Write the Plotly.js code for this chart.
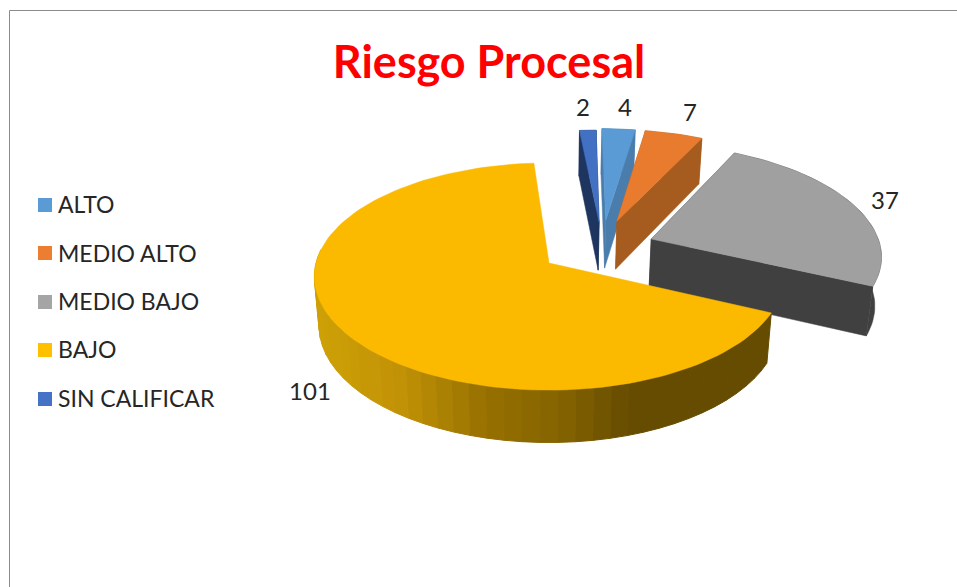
<!DOCTYPE html>
<html>
<head>
<meta charset="utf-8">
<script src="https://cdn.plot.ly/plotly-3.0.1.min.js"></script>
<style>html,body{margin:0;padding:0;background:#fff}</style>
</head>
<body>
<div id="chart" style="width:957px;height:587px"></div>
<script>
// ---- data ----
const categories = ['ALTO', 'MEDIO ALTO', 'MEDIO BAJO', 'BAJO', 'SIN CALIFICAR'];
const values = [4, 7, 37, 101, 2];
const topColors = ['#5B9BD5', '#E97B2F', '#A0A0A0', '#FBB900', '#4270C2'];
const wallColors = ['#4A7DAC', '#A65C1E', '#404040', '#664C00', '#1E3560'];
const legendColors = ['#5B9BD5', '#ED7D31', '#A5A5A5', '#FFC000', '#4472C4'];

// ---- 3-D projection of the pie ----
const firstSliceDeg = 0.6;      // Excel "first slice angle"
const centre = [549, 263], radiusX = 233, radiusY = 112, persp = 0.119;
// explosion of each slice on the pie's plane (u right, v toward the viewer)
const explode = [[0.255, -0.40], [0.305, -0.39], [0.45, -0.22], [0, 0], [0.225, -0.38]];
const drawOrder = [4, 0, 1, 2, 3];

function project(u, v, lift) {
  const s = 1 / (1 - persp * v);
  const x = radiusX * u * s;
  const depth = lift ? 24 + 25 * s : 0;
  return [centre[0] + (lift ? x * 0.98 : x), centre[1] + radiusY * v * s + depth];
}
function polar(i, deg, r) {
  const a = deg * Math.PI / 180;
  return [explode[i][0] + r * Math.sin(a), explode[i][1] - r * Math.cos(a)];
}
function poly(points, color, name, hover, width) {
  const pts = points.concat([points[0]]);
  return {
    type: 'scatter', mode: 'lines', x: pts.map(p => p[0]), y: pts.map(p => p[1]),
    fill: 'toself', fillcolor: color, line: {color: color, width: width === undefined ? 0.5 : width},
    showlegend: false, name: name, hoverinfo: hover ? 'name' : 'skip'
  };
}
function lerpColor(stops, x) {
  let k = 0;
  while (k < stops.length - 2 && x > stops[k + 1][0]) k++;
  const a = stops[k], b = stops[k + 1];
  const t = Math.max(0, Math.min(1, (x - a[0]) / (b[0] - a[0])));
  const c = [0, 1, 2].map(j => Math.round(a[1][j] + (b[1][j] - a[1][j]) * t));
  return 'rgb(' + c.join(',') + ')';
}
const goldShade = [
  [318, [205, 160, 6]], [400, [194, 146, 6]], [480, [152, 114, 0]],
  [560, [132, 99, 0]], [630, [102, 76, 0]], [780, [102, 76, 0]]
];

const total = values.reduce((a, b) => a + b, 0);
const spans = [];
let running = firstSliceDeg;
values.forEach((v, i) => { spans[i] = [running, running + v / total * 360]; running = spans[i][1]; });

const traces = [];
drawOrder.forEach(i => {
  const [a0, a1] = spans[i];
  const n = 2 * Math.max(1, Math.ceil((a1 - a0) / 4));
  const rim = [];
  for (let k = 0; k <= n; k++) rim.push(polar(i, a0 + (a1 - a0) * k / n, 1));
  const apex = polar(i, 0, 0);
  const gold = categories[i] === 'BAJO';
  if (gold) {
    // only the front of the big slice's rim shows
    for (let k = 0; k < n; k += 2) {
      if (rim[k + 2][1] < -0.12) continue;
      const band = [];
      for (let j = k; j <= k + 2; j++) band.push(project(rim[j][0], rim[j][1], false));
      for (let j = k + 2; j >= k; j--) band.push(project(rim[j][0], rim[j][1], true));
      const col = lerpColor(goldShade, (band[0][0] + band[2][0]) / 2);
      traces.push(poly(band, col, categories[i], false, 1));
    }
  } else {
    // radial faces
    [rim[0], rim[n]].forEach(r => {
      traces.push(poly([project(apex[0], apex[1], false), project(r[0], r[1], false),
        project(r[0], r[1], true), project(apex[0], apex[1], true)], wallColors[i], categories[i]));
    });
    const upper = rim.map(r => project(r[0], r[1], false));
    const lower = rim.map(r => project(r[0], r[1], true)).reverse();
    traces.push(poly(upper.concat(lower), wallColors[i], categories[i]));
  }
  // top face
  const top = [project(apex[0], apex[1], false)].concat(rim.map(r => project(r[0], r[1], false)));
  traces.push(poly(top, topColors[i], categories[i] + ': ' + values[i], true));
});

// ---- legend ----
const legendMarkerX = 45, legendTextX = 58, legendMarkerY = [205, 253, 302, 350, 399], legendTextY = [207, 256, 304, 352, 401];
traces.push({
  type: 'scatter', mode: 'markers',
  x: categories.map(() => legendMarkerX), y: legendMarkerY,
  marker: {symbol: 'square', size: 14, color: legendColors},
  showlegend: false, hoverinfo: 'skip'
});
traces.push({
  type: 'scatter', mode: 'text',
  x: categories.map(() => legendTextX), y: legendTextY,
  text: categories, textposition: 'middle right',
  textfont: {family: 'Lato, sans-serif', size: 23, color: '#262626'},
  showlegend: false, hoverinfo: 'skip'
});

// ---- data labels ----
const labelX = [625, 690, 885, 310, 583], labelY = [110, 115, 203, 394, 110];
traces.push({
  type: 'scatter', mode: 'text', x: labelX, y: labelY,
  text: values.map(String), textposition: 'middle center',
  textfont: {family: 'Lato, sans-serif', size: 24, color: '#262626'},
  showlegend: false, hoverinfo: 'skip'
});

const frame = {color: '#8C8C8C', width: 1};
const layout = {
  width: 957, height: 587,
  margin: {l: 0, r: 0, t: 0, b: 0},
  paper_bgcolor: '#fff', plot_bgcolor: '#fff',
  showlegend: false,
  title: {
    text: '<b>Riesgo Procesal</b>', x: 489 / 957, xanchor: 'center',
    y: 1 - 62 / 587, yanchor: 'middle', yref: 'container',
    font: {family: 'Lato, sans-serif', size: 45, color: '#FF0000'}
  },
  xaxis: {range: [0, 957], visible: false, fixedrange: true},
  yaxis: {range: [587, 0], visible: false, fixedrange: true},
  shapes: [
    {type: 'path', path: 'M9.5,587 L9.5,10.5 L957,10.5', line: frame, xref: 'x', yref: 'y', layer: 'below'}
  ]
};
Plotly.newPlot('chart', traces, layout, {displayModeBar: false, responsive: false});
</script>
</body>
</html>
